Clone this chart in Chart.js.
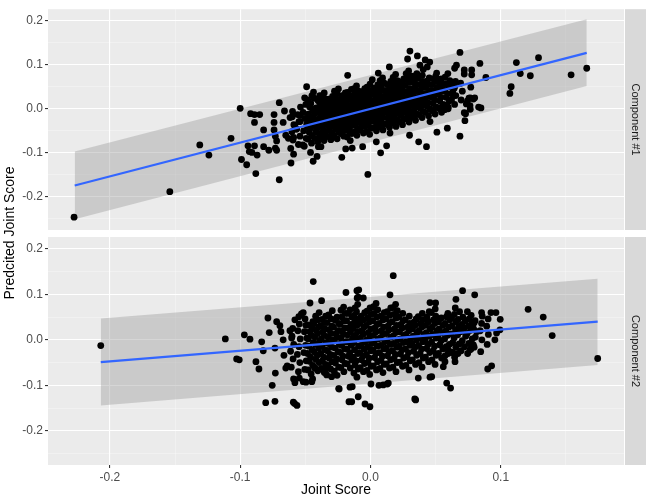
<!DOCTYPE html>
<html>
<head>
<meta charset="utf-8">
<script src="https://cdn.jsdelivr.net/npm/chart.js@4"></script>
<style>
  body { margin: 0; background: #fff; }
  #wrap { position: relative; width: 649px; height: 499px; }
  #wrap canvas { position: absolute; left: 0; top: 0; }
</style>
</head>
<body>
<div id="wrap">
  <canvas id="panel2" width="649" height="499"></canvas>
  <canvas id="panel1" width="649" height="499"></canvas>
</div>
<script>
// Component #1 : dense core + scattered points
const comp1Core = [
  [-0.0612,-0.090],[-0.0595,-0.071],[-0.0603,-0.052],[-0.0588,-0.036],[-0.0617,-0.020],[-0.0598,-0.006],
  [-0.0553,-0.081],[-0.0541,-0.062],[-0.0566,-0.046],[-0.0549,-0.029],[-0.0558,-0.013],[-0.0537,0.004],
  [-0.0508,-0.085],[-0.0494,-0.067],[-0.0513,-0.050],[-0.0489,-0.035],[-0.0502,-0.022],[-0.0517,-0.008],[-0.0496,0.010],[-0.0505,0.025],
  [-0.0452,-0.078],[-0.0447,-0.061],[-0.0461,-0.044],[-0.0438,-0.030],[-0.0456,-0.018],[-0.0443,-0.004],[-0.0458,0.012],[-0.0449,0.030],[-0.0437,0.038],
  [-0.0405,-0.075],[-0.0392,-0.058],[-0.0411,-0.046],[-0.0398,-0.032],[-0.0386,-0.020],[-0.0409,-0.008],[-0.0395,0.004],[-0.0402,0.018],[-0.0389,0.030],
  [-0.0356,-0.072],[-0.0343,-0.060],[-0.0361,-0.048],[-0.0348,-0.034],[-0.0339,-0.022],[-0.0358,-0.012],[-0.0346,0.000],[-0.0352,0.010],[-0.0341,0.022],[-0.0355,0.036],
  [-0.0304,-0.070],[-0.0293,-0.055],[-0.0311,-0.042],[-0.0297,-0.030],[-0.0288,-0.018],[-0.0306,-0.006],[-0.0299,0.006],[-0.0302,0.016],[-0.0291,0.028],
  [-0.0256,-0.068],[-0.0244,-0.052],[-0.0259,-0.040],[-0.0247,-0.028],[-0.0238,-0.015],[-0.0253,-0.004],[-0.0249,0.008],[-0.0242,0.020],[-0.0257,0.034],[-0.0246,0.045],
  [-0.0204,-0.062],[-0.0195,-0.048],[-0.0211,-0.035],[-0.0198,-0.024],[-0.0189,-0.012],[-0.0207,0.000],[-0.0196,0.012],[-0.0202,0.024],[-0.0193,0.036],
  [-0.0155,-0.072],[-0.0143,-0.056],[-0.0159,-0.042],[-0.0147,-0.030],[-0.0138,-0.018],[-0.0153,-0.006],[-0.0149,0.006],[-0.0142,0.018],[-0.0157,0.030],[-0.0146,0.044],
  [-0.0104,-0.060],[-0.0095,-0.045],[-0.0108,-0.032],[-0.0097,-0.020],[-0.0091,-0.008],[-0.0106,0.004],[-0.0099,0.016],[-0.0102,0.028],[-0.0094,0.040],[-0.0107,0.052],
  [-0.0054,-0.055],[-0.0045,-0.040],[-0.0058,-0.028],[-0.0047,-0.016],[-0.0041,-0.004],[-0.0056,0.008],[-0.0049,0.020],[-0.0052,0.032],[-0.0044,0.046],
  [-0.0006,-0.058],[0.0005,-0.044],[-0.0009,-0.030],[0.0003,-0.018],[0.0008,-0.006],[-0.0004,0.006],[0.0002,0.018],[-0.0007,0.030],[0.0006,0.042],[-0.0003,0.056],
  [0.0046,-0.050],[0.0055,-0.036],[0.0042,-0.022],[0.0053,-0.010],[0.0059,0.002],[0.0044,0.014],[0.0051,0.026],[0.0048,0.040],[0.0056,0.054],
  [0.0096,-0.048],[0.0105,-0.034],[0.0092,-0.020],[0.0103,-0.008],[0.0109,0.004],[0.0094,0.016],[0.0101,0.028],[0.0098,0.042],[0.0106,0.058],[0.0093,0.070],
  [0.0146,-0.042],[0.0155,-0.028],[0.0142,-0.014],[0.0153,-0.002],[0.0158,0.010],[0.0144,0.022],[0.0151,0.034],[0.0148,0.048],[0.0156,0.062],
  [0.0196,-0.040],[0.0205,-0.026],[0.0192,-0.012],[0.0203,0.000],[0.0209,0.012],[0.0194,0.024],[0.0201,0.036],[0.0198,0.050],[0.0206,0.064],[0.0193,0.078],
  [0.0246,-0.036],[0.0255,-0.022],[0.0242,-0.008],[0.0253,0.004],[0.0258,0.016],[0.0244,0.028],[0.0251,0.040],[0.0248,0.054],[0.0256,0.068],
  [0.0296,-0.030],[0.0305,-0.016],[0.0292,-0.004],[0.0303,0.008],[0.0309,0.020],[0.0294,0.032],[0.0301,0.046],[0.0298,0.060],[0.0306,0.074],[0.0293,0.086],
  [0.0346,-0.026],[0.0355,-0.012],[0.0342,0.002],[0.0353,0.014],[0.0358,0.026],[0.0344,0.040],[0.0351,0.054],[0.0348,0.068],[0.0356,0.080],
  [0.0396,-0.020],[0.0405,-0.006],[0.0392,0.008],[0.0403,0.020],[0.0409,0.034],[0.0394,0.048],[0.0401,0.062],[0.0398,0.076],
  [0.0446,-0.016],[0.0455,0.000],[0.0442,0.014],[0.0453,0.028],[0.0458,0.042],[0.0444,0.056],[0.0451,0.070],
  [0.0496,-0.012],[0.0505,0.004],[0.0492,0.020],[0.0503,0.034],[0.0509,0.048],[0.0494,0.062],[0.0501,0.074],
  [0.0546,-0.008],[0.0555,0.010],[0.0542,0.026],[0.0553,0.040],[0.0558,0.054],[0.0544,0.068],
  [0.0596,0.000],[0.0605,0.018],[0.0592,0.034],[0.0603,0.050],[0.0609,0.064],[0.0594,0.080],
  [0.0646,0.010],[0.0655,0.030],[0.0642,0.046],[0.0653,0.062],
  [0.0696,0.020],[0.0705,0.040],[0.0692,0.058]
];
const comp1Fill = [
  [-0.0478,-0.069],[-0.0469,-0.054],[-0.0483,-0.041],[-0.0472,-0.027],[-0.0477,-0.012],[-0.0466,0.004],[-0.0481,0.020],
  [-0.0427,-0.067],[-0.0419,-0.052],[-0.0431,-0.038],[-0.0422,-0.024],[-0.0428,-0.011],[-0.0417,0.002],[-0.0433,0.024],
  [-0.0378,-0.066],[-0.0369,-0.054],[-0.0381,-0.040],[-0.0372,-0.027],[-0.0377,-0.016],[-0.0366,-0.006],[-0.0383,0.006],[-0.0371,0.016],[-0.0376,0.029],
  [-0.0327,-0.063],[-0.0319,-0.049],[-0.0331,-0.036],[-0.0322,-0.024],[-0.0328,-0.012],[-0.0317,0.000],[-0.0333,0.011],[-0.0321,0.022],
  [-0.0278,-0.061],[-0.0269,-0.046],[-0.0281,-0.034],[-0.0272,-0.022],[-0.0277,-0.009],[-0.0266,0.002],[-0.0283,0.014],[-0.0271,0.027],[-0.0276,0.040],
  [-0.0227,-0.056],[-0.0219,-0.042],[-0.0231,-0.030],[-0.0222,-0.018],[-0.0228,-0.006],[-0.0217,0.006],[-0.0233,0.018],[-0.0221,0.030],
  [-0.0178,-0.064],[-0.0169,-0.050],[-0.0181,-0.036],[-0.0172,-0.024],[-0.0177,-0.012],[-0.0166,0.000],[-0.0183,0.012],[-0.0171,0.024],[-0.0176,0.037],
  [-0.0127,-0.053],[-0.0119,-0.038],[-0.0131,-0.026],[-0.0122,-0.014],[-0.0128,-0.002],[-0.0117,0.010],[-0.0133,0.022],[-0.0121,0.034],[-0.0126,0.046],
  [-0.0078,-0.048],[-0.0069,-0.034],[-0.0081,-0.022],[-0.0072,-0.010],[-0.0077,0.002],[-0.0066,0.014],[-0.0083,0.026],[-0.0071,0.039],
  [-0.0027,-0.051],[-0.0019,-0.037],[-0.0031,-0.024],[-0.0022,-0.012],[-0.0028,0.000],[-0.0017,0.012],[-0.0033,0.024],[-0.0021,0.036],[-0.0026,0.049],
  [0.0022,-0.043],[0.0031,-0.029],[0.0019,-0.016],[0.0028,-0.004],[0.0023,0.008],[0.0034,0.020],[0.0017,0.033],[0.0029,0.047],
  [0.0072,-0.041],[0.0081,-0.027],[0.0069,-0.014],[0.0078,-0.002],[0.0073,0.010],[0.0084,0.022],[0.0067,0.035],[0.0079,0.050],[0.0074,0.064],
  [0.0122,-0.035],[0.0131,-0.021],[0.0119,-0.008],[0.0128,0.004],[0.0123,0.016],[0.0134,0.028],[0.0117,0.041],[0.0129,0.055],
  [0.0172,-0.033],[0.0181,-0.019],[0.0169,-0.006],[0.0178,0.006],[0.0173,0.018],[0.0184,0.030],[0.0167,0.043],[0.0179,0.057],[0.0174,0.071],
  [0.0222,-0.029],[0.0231,-0.015],[0.0219,-0.002],[0.0228,0.010],[0.0223,0.022],[0.0234,0.034],[0.0217,0.047],[0.0229,0.061],
  [0.0272,-0.023],[0.0281,-0.010],[0.0269,0.002],[0.0278,0.014],[0.0273,0.026],[0.0284,0.039],[0.0267,0.053],[0.0279,0.067],[0.0274,0.080],
  [0.0322,-0.019],[0.0331,-0.005],[0.0319,0.008],[0.0328,0.020],[0.0323,0.033],[0.0334,0.047],[0.0317,0.061],[0.0329,0.074],
  [0.0372,-0.013],[0.0381,0.001],[0.0369,0.014],[0.0378,0.027],[0.0373,0.041],[0.0384,0.055],[0.0367,0.069],
  [0.0422,-0.008],[0.0431,0.007],[0.0419,0.021],[0.0428,0.035],[0.0423,0.049],[0.0434,0.063],
  [0.0472,-0.004],[0.0481,0.012],[0.0469,0.027],[0.0478,0.041],[0.0473,0.055],[0.0484,0.068],
  [0.0522,0.002],[0.0531,0.018],[0.0519,0.033],[0.0528,0.047],[0.0523,0.061],
  [0.0572,0.009],[0.0581,0.026],[0.0569,0.042],[0.0578,0.057],[0.0573,0.072],
  [0.0622,0.020],[0.0631,0.038],[0.0619,0.054]
];
const comp1Spread = [
  [-0.2275,-0.246],[-0.154,-0.188],[-0.131,-0.082],[-0.124,-0.105],[-0.107,-0.067],[-0.100,0.001],[-0.099,-0.115],
  [-0.095,-0.127],[-0.092,-0.011],[-0.089,-0.013],[-0.085,-0.013],[-0.089,-0.031],[-0.082,-0.048],[-0.094,-0.084],
  [-0.093,-0.097],[-0.091,-0.099],[-0.089,-0.084],[-0.087,-0.105],[-0.088,-0.147],[-0.082,-0.086],[-0.078,-0.094],
  [-0.074,-0.013],[-0.074,-0.031],[-0.070,0.014],[-0.074,-0.048],[-0.073,-0.062],[-0.072,-0.073],[-0.073,-0.089],
  [-0.072,-0.094],[-0.066,-0.005],[-0.067,-0.031],[-0.070,-0.161],[-0.065,-0.060],[-0.063,-0.067],[-0.059,-0.065],
  [-0.061,-0.123],[-0.059,-0.103],[-0.060,-0.018],[-0.058,-0.039],[-0.057,-0.046],[-0.054,-0.015],[-0.054,-0.029],
  [-0.052,-0.082],[-0.049,0.050],[-0.046,-0.099],[-0.044,-0.119],[-0.041,-0.108],[-0.040,-0.086],
  [0.0303,0.131],[0.0285,0.113],[0.036,0.120],[0.042,0.111],[0.0687,0.128],[0.084,0.103],[0.0886,0.071],[0.0848,0.002],
  [0.112,0.105],[0.115,0.080],[0.1227,0.075],[0.129,0.116],[0.108,0.050],[0.107,0.035],[0.154,0.077],[0.166,0.092],
  [0.077,0.049],[0.0745,0.018],[0.0766,0.025],[0.079,0.022],[0.0766,-0.001],[0.0736,0.011],[0.072,-0.009],[0.0725,-0.027],
  [0.0687,-0.062],[0.059,-0.044],[0.051,-0.053],[0.043,-0.086],[0.037,-0.075],[0.030,-0.060],[0.0124,-0.084],[0.0078,-0.100],
  [0.0045,-0.075],[-0.002,-0.149],[-0.006,-0.086],[-0.014,-0.089],[-0.019,-0.091],[-0.022,-0.110],[-0.0175,0.076],[-0.038,-0.086],
  [0.0646,0.092],[0.066,0.099],[0.072,0.088],[0.0777,0.088],[0.0777,0.077],[0.072,0.079],[0.0145,0.095],[0.006,0.081],
  [0.0014,0.066],[0.038,0.099],[0.0405,0.089],[0.0436,0.095],[0.0508,0.081],[0.0648,0.051],[0.0636,0.029],[0.0457,-0.029],
  [0.048,-0.004],[0.0533,0.000],[0.057,-0.002],[0.0597,0.004],[0.015,-0.055],[0.0756,0.024],[0.080,0.025],[0.083,0.004],
  [0.0764,0.007],[0.073,-0.011],[0.0455,0.106]
];

// Component #2
const comp2Core = [
  [-0.0608,-0.060],[-0.0594,-0.042],[-0.0613,-0.025],[-0.0589,-0.010],[-0.0602,0.008],[-0.0597,0.025],
  [-0.0553,-0.070],[-0.0542,-0.050],[-0.0561,-0.032],[-0.0548,-0.015],[-0.0539,0.002],[-0.0557,0.020],[-0.0546,0.035],
  [-0.0504,-0.065],[-0.0493,-0.046],[-0.0511,-0.028],[-0.0498,-0.012],[-0.0489,0.004],[-0.0507,0.018],[-0.0496,0.032],[-0.0502,0.046],
  [-0.0455,-0.075],[-0.0443,-0.056],[-0.0459,-0.038],[-0.0447,-0.022],[-0.0438,-0.006],[-0.0453,0.010],[-0.0449,0.026],[-0.0442,0.040],
  [-0.0404,-0.068],[-0.0395,-0.050],[-0.0408,-0.034],[-0.0397,-0.018],[-0.0391,-0.002],[-0.0406,0.014],[-0.0399,0.028],[-0.0402,0.044],[-0.0394,0.060],
  [-0.0354,-0.072],[-0.0345,-0.054],[-0.0358,-0.038],[-0.0347,-0.022],[-0.0341,-0.006],[-0.0356,0.010],[-0.0349,0.024],[-0.0352,0.038],[-0.0344,0.052],
  [-0.0306,-0.064],[-0.0295,-0.048],[-0.0309,-0.032],[-0.0298,-0.016],[-0.0292,0.000],[-0.0304,0.014],[-0.0297,0.030],[-0.0301,0.046],[-0.0293,0.064],
  [-0.0256,-0.078],[-0.0244,-0.060],[-0.0259,-0.042],[-0.0247,-0.026],[-0.0238,-0.010],[-0.0253,0.006],[-0.0249,0.020],[-0.0242,0.036],[-0.0257,0.050],
  [-0.0204,-0.070],[-0.0195,-0.052],[-0.0211,-0.036],[-0.0198,-0.020],[-0.0189,-0.004],[-0.0207,0.012],[-0.0196,0.026],[-0.0202,0.042],[-0.0193,0.058],[-0.0206,0.072],
  [-0.0155,-0.062],[-0.0143,-0.044],[-0.0159,-0.028],[-0.0147,-0.012],[-0.0138,0.004],[-0.0153,0.018],[-0.0149,0.034],[-0.0142,0.050],[-0.0157,0.066],
  [-0.0104,-0.082],[-0.0095,-0.064],[-0.0108,-0.046],[-0.0097,-0.030],[-0.0091,-0.014],[-0.0106,0.002],[-0.0099,0.018],[-0.0102,0.032],[-0.0094,0.046],[-0.0107,0.062],[-0.0098,0.078],
  [-0.0054,-0.070],[-0.0045,-0.052],[-0.0058,-0.036],[-0.0047,-0.020],[-0.0041,-0.004],[-0.0056,0.012],[-0.0049,0.028],[-0.0052,0.044],[-0.0044,0.060],
  [-0.0006,-0.076],[0.0005,-0.058],[-0.0009,-0.040],[0.0003,-0.024],[0.0008,-0.008],[-0.0004,0.008],[0.0002,0.024],[-0.0007,0.040],[0.0006,0.056],[-0.0003,0.070],
  [0.0046,-0.066],[0.0055,-0.048],[0.0042,-0.030],[0.0053,-0.014],[0.0059,0.002],[0.0044,0.018],[0.0051,0.034],[0.0048,0.050],[0.0056,0.066],[0.0043,0.080],
  [0.0096,-0.072],[0.0105,-0.054],[0.0092,-0.036],[0.0103,-0.020],[0.0109,-0.004],[0.0094,0.012],[0.0101,0.028],[0.0098,0.044],[0.0106,0.060],
  [0.0146,-0.062],[0.0155,-0.044],[0.0142,-0.026],[0.0153,-0.010],[0.0158,0.006],[0.0144,0.022],[0.0151,0.038],[0.0148,0.054],[0.0156,0.070],
  [0.0196,-0.070],[0.0205,-0.050],[0.0192,-0.032],[0.0203,-0.016],[0.0209,0.000],[0.0194,0.016],[0.0201,0.032],[0.0198,0.048],[0.0206,0.064],[0.0193,0.078],
  [0.0246,-0.058],[0.0255,-0.040],[0.0242,-0.022],[0.0253,-0.006],[0.0258,0.010],[0.0244,0.026],[0.0251,0.042],[0.0248,0.058],
  [0.0296,-0.066],[0.0305,-0.046],[0.0292,-0.028],[0.0303,-0.012],[0.0309,0.004],[0.0294,0.020],[0.0301,0.036],[0.0298,0.052],
  [0.0346,-0.054],[0.0355,-0.034],[0.0342,-0.016],[0.0353,0.000],[0.0358,0.016],[0.0344,0.032],[0.0351,0.046],
  [0.0396,-0.060],[0.0405,-0.040],[0.0392,-0.020],[0.0403,-0.004],[0.0409,0.012],[0.0394,0.028],[0.0401,0.044],[0.0398,0.058],
  [0.0446,-0.048],[0.0455,-0.028],[0.0442,-0.010],[0.0453,0.008],[0.0458,0.024],[0.0444,0.040],[0.0451,0.062],
  [0.0496,-0.054],[0.0505,-0.034],[0.0492,-0.014],[0.0503,0.004],[0.0509,0.020],[0.0494,0.036],[0.0501,0.052],[0.0497,0.068],
  [0.0546,-0.040],[0.0555,-0.020],[0.0542,-0.002],[0.0553,0.016],[0.0558,0.032],[0.0544,0.048],
  [0.0596,-0.030],[0.0605,-0.010],[0.0592,0.010],[0.0603,0.028],[0.0609,0.044],[0.0594,0.058],
  [0.0646,-0.038],[0.0655,-0.016],[0.0642,0.004],[0.0653,0.022],[0.0658,0.040],[0.0644,0.056],[0.0651,0.070],
  [0.0696,-0.024],[0.0705,-0.002],[0.0692,0.018],[0.0703,0.034],[0.0709,0.050],
  [0.0746,-0.030],[0.0755,-0.008],[0.0742,0.014],[0.0753,0.030],[0.0758,0.046],[0.0744,0.062],
  [0.0796,-0.016],[0.0805,0.006],[0.0792,0.024],[0.0803,0.042],
  [0.0846,-0.026],[0.0855,0.000],[0.0842,0.020],[0.0853,0.036],[0.0858,0.052],
  [0.0896,-0.010],[0.0905,0.012],[0.0892,0.030],[0.0903,0.046]
];
const comp2Fill = [
  [-0.0478,-0.066],[-0.0469,-0.047],[-0.0483,-0.030],[-0.0472,-0.014],[-0.0477,0.002],[-0.0466,0.018],[-0.0481,0.033],
  [-0.0427,-0.062],[-0.0419,-0.043],[-0.0431,-0.026],[-0.0422,-0.010],[-0.0428,0.006],[-0.0417,0.021],[-0.0433,0.036],[-0.0421,0.052],
  [-0.0378,-0.063],[-0.0369,-0.046],[-0.0381,-0.030],[-0.0372,-0.014],[-0.0377,0.002],[-0.0366,0.017],[-0.0383,0.031],[-0.0371,0.045],
  [-0.0327,-0.056],[-0.0319,-0.040],[-0.0331,-0.024],[-0.0322,-0.008],[-0.0328,0.007],[-0.0317,0.022],[-0.0333,0.038],[-0.0321,0.055],
  [-0.0278,-0.069],[-0.0269,-0.051],[-0.0281,-0.034],[-0.0272,-0.018],[-0.0277,-0.002],[-0.0266,0.013],[-0.0283,0.028],[-0.0271,0.043],
  [-0.0227,-0.061],[-0.0219,-0.044],[-0.0231,-0.028],[-0.0222,-0.012],[-0.0228,0.004],[-0.0217,0.019],[-0.0233,0.034],[-0.0221,0.050],[-0.0226,0.065],
  [-0.0178,-0.053],[-0.0169,-0.036],[-0.0181,-0.020],[-0.0172,-0.004],[-0.0177,0.011],[-0.0166,0.026],[-0.0183,0.042],[-0.0171,0.058],
  [-0.0127,-0.073],[-0.0119,-0.055],[-0.0131,-0.038],[-0.0122,-0.022],[-0.0128,-0.006],[-0.0117,0.010],[-0.0133,0.025],[-0.0121,0.039],[-0.0126,0.054],[-0.0118,0.070],
  [-0.0078,-0.061],[-0.0069,-0.044],[-0.0081,-0.028],[-0.0072,-0.012],[-0.0077,0.004],[-0.0066,0.020],[-0.0083,0.036],[-0.0071,0.052],
  [-0.0027,-0.067],[-0.0019,-0.049],[-0.0031,-0.032],[-0.0022,-0.016],[-0.0028,0.000],[-0.0017,0.016],[-0.0033,0.032],[-0.0021,0.048],[-0.0026,0.063],
  [0.0022,-0.057],[0.0031,-0.039],[0.0019,-0.022],[0.0028,-0.006],[0.0023,0.010],[0.0034,0.026],[0.0017,0.042],[0.0029,0.058],[0.0024,0.073],
  [0.0072,-0.063],[0.0081,-0.045],[0.0069,-0.028],[0.0078,-0.012],[0.0073,0.004],[0.0084,0.020],[0.0067,0.036],[0.0079,0.052],
  [0.0122,-0.053],[0.0131,-0.035],[0.0119,-0.018],[0.0128,-0.002],[0.0123,0.014],[0.0134,0.030],[0.0117,0.046],[0.0129,0.062],
  [0.0172,-0.060],[0.0181,-0.041],[0.0169,-0.024],[0.0178,-0.008],[0.0173,0.008],[0.0184,0.024],[0.0167,0.040],[0.0179,0.056],[0.0174,0.071],
  [0.0222,-0.049],[0.0231,-0.031],[0.0219,-0.014],[0.0228,0.002],[0.0223,0.018],[0.0234,0.034],[0.0217,0.050],
  [0.0272,-0.056],[0.0281,-0.037],[0.0269,-0.020],[0.0278,-0.004],[0.0273,0.012],[0.0284,0.028],[0.0267,0.044],
  [0.0322,-0.044],[0.0331,-0.025],[0.0319,-0.008],[0.0328,0.008],[0.0323,0.024],[0.0334,0.039],
  [0.0372,-0.050],[0.0381,-0.030],[0.0369,-0.012],[0.0378,0.004],[0.0373,0.020],[0.0384,0.036],[0.0367,0.051],
  [0.0422,-0.038],[0.0431,-0.019],[0.0419,0.000],[0.0428,0.016],[0.0423,0.032],[0.0434,0.050],
  [0.0472,-0.044],[0.0481,-0.024],[0.0469,-0.005],[0.0478,0.012],[0.0473,0.028],[0.0484,0.044],[0.0467,0.060],
  [0.0522,-0.030],[0.0531,-0.011],[0.0519,0.007],[0.0528,0.024],[0.0523,0.040],
  [0.0572,-0.035],[0.0581,-0.015],[0.0569,0.002],[0.0578,0.019],[0.0573,0.036],[0.0584,0.051],
  [0.0622,-0.027],[0.0631,-0.006],[0.0619,0.013],[0.0628,0.031],[0.0623,0.048],
  [0.0672,-0.030],[0.0681,-0.009],[0.0669,0.011],[0.0678,0.028],[0.0673,0.045],[0.0684,0.062],
  [0.0722,-0.015],[0.0731,0.008],[0.0719,0.026],[0.0728,0.042],
  [0.0772,-0.020],[0.0781,0.002],[0.0769,0.021],[0.0778,0.038],[0.0773,0.054]
];
const comp2Spread = [
  [-0.207,-0.0125],[-0.1114,0.002],[-0.0968,0.011],[-0.0925,0.0015],[-0.1027,-0.042],[-0.1007,-0.044],[-0.0879,-0.048],
  [-0.0856,-0.064],[-0.0835,-0.0044],[-0.0823,-0.024],[-0.0787,0.048],[-0.0777,0.016],[-0.0754,-0.100],[-0.073,-0.073],
  [-0.0804,-0.138],[-0.0733,-0.135],[-0.072,0.040],[-0.0695,0.031],[-0.0687,0.018],[-0.0733,-0.018],[-0.067,0.000],
  [-0.0664,-0.034],[-0.065,-0.062],[-0.0639,-0.057],[-0.0592,-0.137],[-0.0582,-0.140],[-0.0564,-0.144],[-0.059,-0.086],
  [-0.058,-0.094],[-0.0546,-0.084],[-0.0618,0.020],[-0.0605,0.004],[-0.058,0.044],[-0.055,0.051],[-0.053,0.057],
  [-0.0516,0.060],[-0.0516,-0.092],[-0.0495,-0.093],[-0.045,-0.092],[-0.0444,-0.086],[-0.0439,0.128],[-0.0464,0.081],
  [-0.0375,0.086],[-0.0426,-0.062],[-0.035,-0.070],[-0.0336,-0.059],[-0.0188,0.104],[-0.0104,0.108],[-0.0102,0.092],
  [-0.0244,-0.107],[-0.0157,-0.104],[-0.0165,-0.136],[-0.0336,-0.077],[-0.0298,-0.081],
  [0.0175,0.141],[-0.009,0.110],[0.015,0.099],[-0.0094,0.094],[-0.0055,0.092],[0.0707,0.108],[0.080,0.099],[0.0656,0.089],
  [0.0457,0.082],[0.050,0.081],[0.034,-0.130],[0.0585,-0.095],[0.0615,-0.106],[0.0457,-0.082],[0.047,-0.081],[0.0367,-0.084],
  [-0.0094,-0.125],[-0.0042,-0.141],[-0.0004,-0.147],[-0.0144,-0.136],[0.0098,-0.099],[0.0129,-0.097],[0.0004,-0.097],
  [0.121,0.067],[0.1326,0.050],[0.1395,0.0095],[0.1744,-0.041],[0.0996,0.045],[0.0963,0.060],[0.0925,0.060],[0.0994,0.022],
  [0.0968,0.015],[0.0955,0.000],[0.090,-0.064],[0.093,-0.057],[0.0853,0.060],[0.0795,0.037],[0.0815,0.018],[0.079,-0.011],
  [0.0764,-0.022],[0.0649,-0.048],[0.0636,-0.029],[0.0597,-0.022],[0.0572,-0.048],[0.0559,-0.059],[0.0347,-0.132],
  [0.0065,-0.100],[0.0137,-0.095],[-0.024,-0.108],[-0.014,-0.103]
];

// fitted lines and prediction bands (end points)
const fit1X = [-0.227, 0.166];
const fit1Y = [-0.174, 0.127];
const band1Low = [-0.2505, 0.052];
const band1High = [-0.0967, 0.203];

const fit2X = [-0.207, 0.1744];
const fit2Y = [-0.049, 0.040];
const band2Low = [-0.144, -0.055];
const band2High = [0.047, 0.134];

const xTicks = [-0.2, -0.1, 0.0, 0.1];
const yTicks = [-0.2, -0.1, 0.0, 0.1, 0.2];

const FONT = '"Liberation Sans", Arial, sans-serif';

function isMajor(v, list) {
  return list.some(t => Math.abs(t - v) < 1e-6);
}

// panel background, facet strip and shared y title
const facetPlugin = {
  id: 'facet',
  beforeDraw(chart) {
    const a = chart.chartArea, c = chart.ctx;
    c.save();
    c.fillStyle = '#ebebeb';
    c.fillRect(a.left, a.top, a.right - a.left, a.bottom - a.top);
    c.restore();
  },
  afterDraw(chart, args, opts) {
    const a = chart.chartArea, c = chart.ctx;
    c.save();
    c.fillStyle = '#d9d9d9';
    c.fillRect(a.right + 1, a.top, 21, a.bottom - a.top);
    c.translate(a.right + 11.5, (a.top + a.bottom) / 2);
    c.rotate(Math.PI / 2);
    c.fillStyle = '#1a1a1a';
    c.font = '11px ' + FONT;
    c.textAlign = 'center';
    c.textBaseline = 'middle';
    c.fillText(opts.label, 0, 0);
    c.restore();
    if (opts.yTitle) {
      c.save();
      c.translate(10, 233);
      c.rotate(-Math.PI / 2);
      c.fillStyle = '#000';
      c.font = '14px ' + FONT;
      c.textAlign = 'center';
      c.textBaseline = 'middle';
      c.fillText(opts.yTitle, 0, 0);
      c.restore();
    }
  }
};

function gridOpts(list) {
  return {
    color: ctx => ctx.tick && isMajor(ctx.tick.value, list) ? '#ffffff' : 'rgba(255,255,255,0.55)',
    lineWidth: ctx => ctx.tick && isMajor(ctx.tick.value, list) ? 1.1 : 0.6,
    tickColor: ctx => ctx.tick && isMajor(ctx.tick.value, list) ? '#333333' : 'rgba(0,0,0,0)',
    tickLength: 3
  };
}

function makePanel(canvasId, points, fx, fy, lo, hi, cfg) {
  const pts = points.map(p => ({ x: p[0], y: p[1] }));
  return new Chart(document.getElementById(canvasId), {
    type: 'scatter',
    data: {
      datasets: [
        {
          type: 'line', data: fx.map((x, i) => ({ x, y: hi[i] })),
          borderWidth: 0, pointRadius: 0, fill: '+1',
          backgroundColor: 'rgba(153,153,153,0.4)', order: 3
        },
        {
          type: 'line', data: fx.map((x, i) => ({ x, y: lo[i] })),
          borderWidth: 0, pointRadius: 0, fill: false, order: 3
        },
        {
          data: pts, pointRadius: 3.4, backgroundColor: '#000000',
          borderWidth: 0, order: 2
        },
        {
          type: 'line', data: fx.map((x, i) => ({ x, y: fy[i] })),
          borderColor: '#3366ff', borderWidth: 2.2, pointRadius: 0, fill: false, order: 1
        }
      ]
    },
    options: {
      responsive: false,
      animation: false,
      devicePixelRatio: 1,
      events: [],
      layout: { padding: cfg.padding },
      plugins: {
        legend: { display: false },
        tooltip: { enabled: false },
        facet: { label: cfg.label, yTitle: cfg.yTitle }
      },
      scales: {
        x: {
          type: 'linear', min: -0.2475, max: 0.1946,
          border: { display: false },
          grid: Object.assign(gridOpts(xTicks), { drawTicks: cfg.showX }),
          ticks: {
            display: cfg.showX, stepSize: 0.05, includeBounds: false, padding: 2,
            color: '#4d4d4d', font: { family: FONT, size: 12 },
            maxRotation: 0, autoSkip: false,
            callback: v => isMajor(v, xTicks) ? v.toFixed(1) : ''
          },
          title: {
            display: cfg.showX, text: 'Joint Score', color: '#000',
            font: { family: FONT, size: 14 }, padding: { top: 0, bottom: 0 }
          },
          afterFit: s => { s.height = cfg.showX ? 34 : 0; }
        },
        y: {
          type: 'linear', min: -0.275, max: 0.226,
          border: { display: false },
          grid: gridOpts(yTicks),
          ticks: {
            stepSize: 0.05, includeBounds: false, padding: 2,
            color: '#4d4d4d', font: { family: FONT, size: 12 },
            autoSkip: false,
            callback: v => isMajor(v, yTicks) ? v.toFixed(1) : ''
          },
          afterFit: s => { s.width = 48; }
        }
      }
    },
    plugins: [facetPlugin]
  });
}

makePanel('panel2', comp2Core.concat(comp2Fill, comp2Spread), fit2X, fit2Y, band2Low, band2High, {
  padding: { left: 0, top: 237, right: 25, bottom: 0 },
  label: 'Component #2', yTitle: 'Predcited Joint Score', showX: true
});
makePanel('panel1', comp1Core.concat(comp1Fill, comp1Spread), fit1X, fit1Y, band1Low, band1High, {
  padding: { left: 0, top: 2, right: 25, bottom: 269 },
  label: 'Component #1', yTitle: null, showX: false
});
</script>
</body>
</html>
